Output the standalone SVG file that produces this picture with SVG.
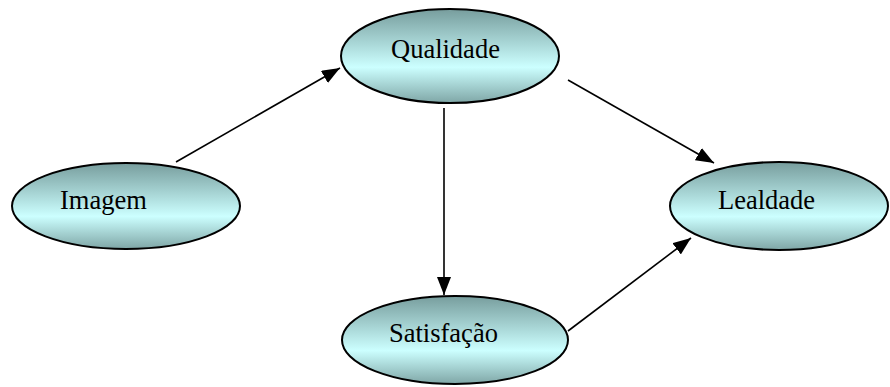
<svg xmlns="http://www.w3.org/2000/svg" width="890" height="387" viewBox="0 0 890 387">
<defs>
<linearGradient id="g" x1="0" y1="0" x2="0" y2="1">
<stop offset="0" stop-color="#779d9d"/>
<stop offset="0.62" stop-color="#ccffff"/>
<stop offset="1" stop-color="#7fa6a6"/>
</linearGradient>
<marker id="ah" markerWidth="18" markerHeight="14" refX="18" refY="7" orient="auto" markerUnits="userSpaceOnUse">
<path d="M0,0 L18,7 L0,14 Z" fill="#000"/>
</marker>
<style>
.n{fill:url(#g);stroke:#000;stroke-width:2}
.t{font-family:"Liberation Serif","Times New Roman",serif;font-size:26.5px;fill:#000}
.c{stroke:#000;stroke-width:1.6;fill:none;marker-end:url(#ah)}
</style>
</defs>
<g id="connectors">
<line class="c" x1="176" y1="162" x2="340" y2="68"/>
<line class="c" x1="444" y1="108" x2="444" y2="295"/>
<line class="c" x1="568" y1="80" x2="714" y2="163"/>
<line class="c" x1="568" y1="331" x2="691" y2="238"/>
</g>
<g id="imagem"><ellipse class="n" cx="126" cy="206" rx="114" ry="43"/><text class="t" x="60" y="209">Imagem</text></g>
<g id="qualidade"><ellipse class="n" cx="450" cy="56" rx="109" ry="47"/><text class="t" x="391" y="58">Qualidade</text></g>
<g id="lealdade"><ellipse class="n" cx="779" cy="206" rx="109" ry="44"/><text class="t" x="718" y="209">Lealdade</text></g>
<g id="satisfacao"><ellipse class="n" cx="455" cy="340" rx="113" ry="44"/><text class="t" x="389" y="342">Satisfação</text></g>
</svg>
